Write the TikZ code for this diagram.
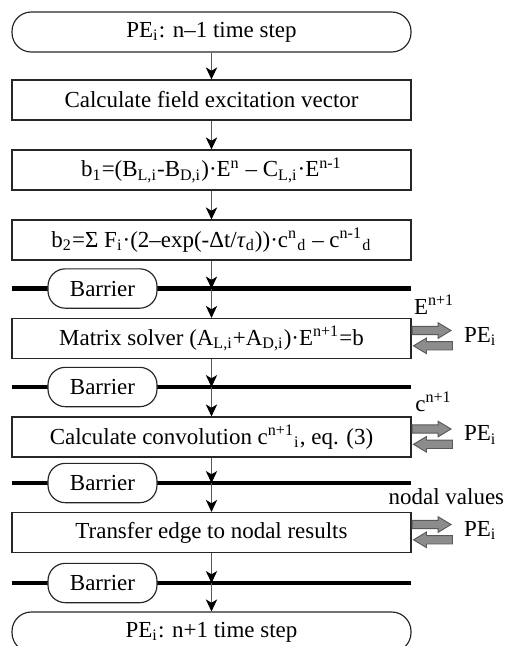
\documentclass[tikz,border=0pt]{standalone}
\usepackage{fontspec}
\setmainfont{Liberation Serif}
\usetikzlibrary{arrows.meta,positioning,shapes.arrows}

\tikzstyle{process} = [draw=black!85,line width=0.5pt,minimum width=59.85mm,minimum height=6mm,inner sep=0pt]
\tikzstyle{terminal} = [process,rounded corners=2.9mm]
\tikzstyle{barrier} = [draw=black!85,line width=0.5pt,fill=white,rounded corners=2.6mm,minimum width=16.35mm,minimum height=5.9mm,inner sep=0pt]
\tikzstyle{barrier line} = [draw,line width=2.1pt]
\tikzstyle{flow} = [draw=black!65,line width=0.45pt,-{Stealth[length=1.8mm,width=1.7mm,inset=0.5mm,color=black]}]
\tikzstyle{transfer} = [single arrow,draw=black!65,fill=black!45,line width=0.4pt,minimum height=5.85mm,inner sep=0.55mm,single arrow head extend=0.55mm,single arrow tip angle=62]
\tikzstyle{sidelabel} = [inner sep=0pt]

\begin{document}
\begin{tikzpicture}[x=0.15mm,y=-0.15mm,font=\fontsize{9.8}{11.8}\selectfont]
  \useasboundingbox (0,0) rectangle (508,646);
  % nodes
  \node[terminal] (start) at (211.5,32) {PE\textsubscript{i}: n–1 time step};
  \node[process] (field) at (211.5,100) {Calculate field excitation vector};
  \node[process] (bone) at (211.5,170) {b\textsubscript{1}=(B\textsubscript{L,i}-B\textsubscript{D,i})·E\textsuperscript{n} – C\textsubscript{L,i}·E\textsuperscript{n-1}};
  \node[process] (btwo) at (211.5,240) {b\textsubscript{2}=Σ F\textsubscript{i}·(2–exp(-Δt/\textit{τ}\textsubscript{d}))·c\textsuperscript{n}\textsubscript{d} – c\textsuperscript{n-1}\textsubscript{d}};
  \node[process] (solver) at (211.5,338.5) {Matrix solver (A\textsubscript{L,i}+A\textsubscript{D,i})·E\textsuperscript{n+1}=b};
  \node[process] (conv) at (211.5,437) {Calculate convolution c\textsuperscript{n+1}\textsubscript{i}, eq. (3)};
  \node[process] (transfer) at (211.5,532.5) {Transfer edge to nodal results};
  \node[terminal] (stop) at (211.5,632) {PE\textsubscript{i}: n+1 time step};

  % barriers
  \foreach \name/\y in {bar1/288.5, bar2/387, bar3/483, bar4/583}
  {
    \draw[barrier line] (12,\y) -- (411,\y);
    \coordinate (\name) at (211.5,\y);
    \node[barrier] (\name box) at (102.5,\y) {Barrier};
  };

  % edges
  \foreach \startnode/\endnode in {start/field, field/bone, bone/btwo, btwo/bar1, bar1/solver,
    solver/bar2, bar2/conv, conv/bar3, bar3/transfer, transfer/bar4, bar4/stop}
  {
    \draw[flow] (\startnode) -- (\endnode);
  };

  % data exchange with the other PEs
  \foreach \step/\lbl/\dx/\dy in {solver/{E\textsuperscript{n+1}}/0.3mm/0.5mm, conv/{c\textsuperscript{n+1}}/0.5mm/0.7mm, transfer/{nodal values}/-3.5mm/1mm}
  {
    \node[transfer, anchor=tail] (\step send) at ([yshift=1.2mm]\step.east) {};
    \node[transfer, shape border rotate=180, anchor=tip] (\step recv) at ([xshift=0.15mm,yshift=-1.1mm]\step.east) {};
    \node[sidelabel, anchor=west] (\step pe) at ([xshift=7.8mm,yshift=0.3mm]\step.east) {PE\textsubscript{i}};
    \node[sidelabel, anchor=south west] (\step data) at ([xshift=\dx,yshift=\dy]\step.north east) {\lbl};
  };
\end{tikzpicture}
\end{document}
